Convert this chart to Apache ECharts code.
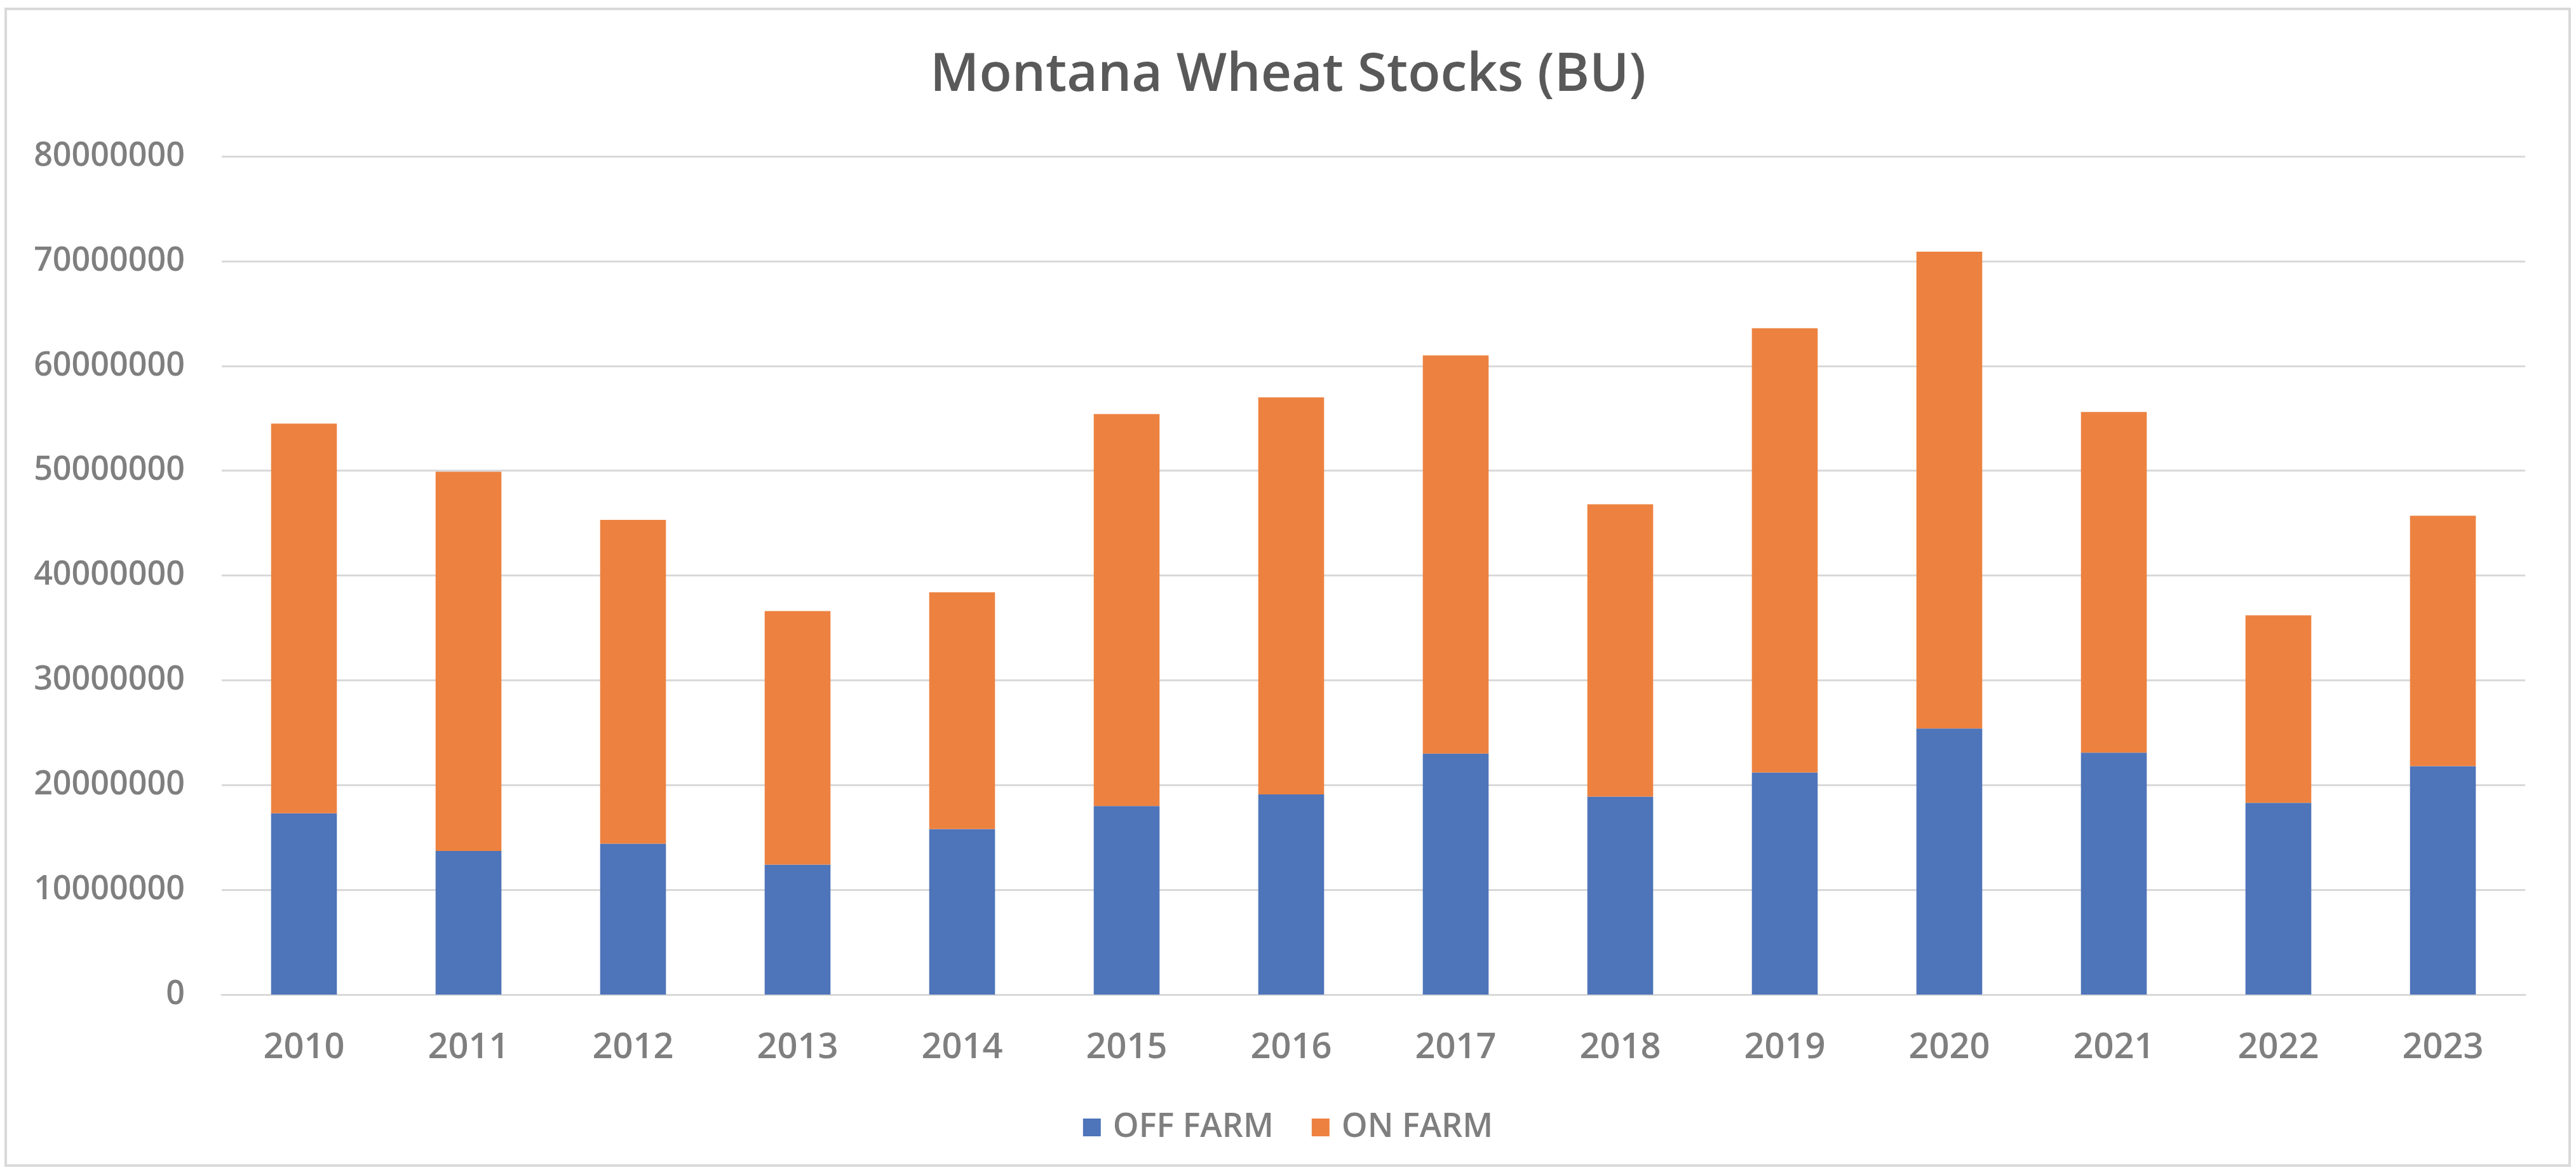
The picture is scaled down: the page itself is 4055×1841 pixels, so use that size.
<!DOCTYPE html>
<html>
<head>
<meta charset="utf-8">
<script src="https://cdn.jsdelivr.net/npm/echarts@6/dist/echarts.min.js"></script>
<style>
html,body{margin:0;padding:0;background:#fff;}
#c{width:4055px;height:1841px;}
</style>
</head>
<body>
<div id="c"></div>
<script>
const years = ['2010','2011','2012','2013','2014','2015','2016','2017','2018','2019','2020','2021','2022','2023'];
const offFarm = [17300000,13700000,14400000,12400000,15800000,18000000,19100000,23000000,18900000,21200000,25400000,23100000,18300000,21800000];
const onFarm = [37200000,36200000,30900000,24200000,22600000,37400000,37900000,38000000,27900000,42400000,45500000,32500000,17900000,23900000];
const yTicks = [0,10000000,20000000,30000000,40000000,50000000,60000000,70000000,80000000];

const chart = echarts.init(document.getElementById('c'));
const font = '"Open Sans", "Noto Sans", sans-serif';
chart.setOption({
  backgroundColor: '#ffffff',
  animation: false,
  title: {
    text: 'Montana Wheat Stocks (BU)',
    left: 'center',
    top: 72,
    textStyle: {fontFamily: font, fontSize: 84, fontWeight: 600, color: '#595959'}
  },
  legend: {
    bottom: 36,
    left: 'center',
    itemWidth: 28,
    itemHeight: 28,
    itemGap: 60,
    icon: 'rect',
    textStyle: {fontFamily: font, fontSize: 52, color: '#7f7f7f', fontWeight: 600, padding: [0, 0, 0, 14]}
  },
  grid: {left: 349, right: 80, top: 246, bottom: 276, containLabel: false},
  xAxis: {
    type: 'category',
    data: years,
    axisTick: {show: false},
    axisLine: {lineStyle: {color: '#d9d9d9', width: 3}},
    axisLabel: {fontFamily: font, fontSize: 56, fontWeight: 600, color: '#7f7f7f', margin: 56}
  },
  yAxis: {
    type: 'value',
    min: yTicks[0],
    max: yTicks[yTicks.length - 1],
    interval: yTicks[1] - yTicks[0],
    axisLine: {show: false},
    axisTick: {show: false},
    splitLine: {lineStyle: {color: '#d9d9d9', width: 3}},
    axisLabel: {fontFamily: font, fontSize: 52, fontWeight: 600, color: '#7f7f7f', margin: 58,
      formatter: function (v) { return String(v); }}
  },
  series: [
    {name: 'OFF FARM', type: 'bar', stack: 'total', data: offFarm, barWidth: '40%', itemStyle: {color: '#4e74b9'}},
    {name: 'ON FARM', type: 'bar', stack: 'total', data: onFarm, barWidth: '40%', itemStyle: {color: '#ed8240'}}
  ],
  graphic: [{
    type: 'rect',
    shape: {x: 9, y: 14, width: 4036, height: 1820},
    style: {fill: 'none', stroke: '#d9d9d9', lineWidth: 4},
    silent: true
  }]
});
</script>
</body>
</html>
